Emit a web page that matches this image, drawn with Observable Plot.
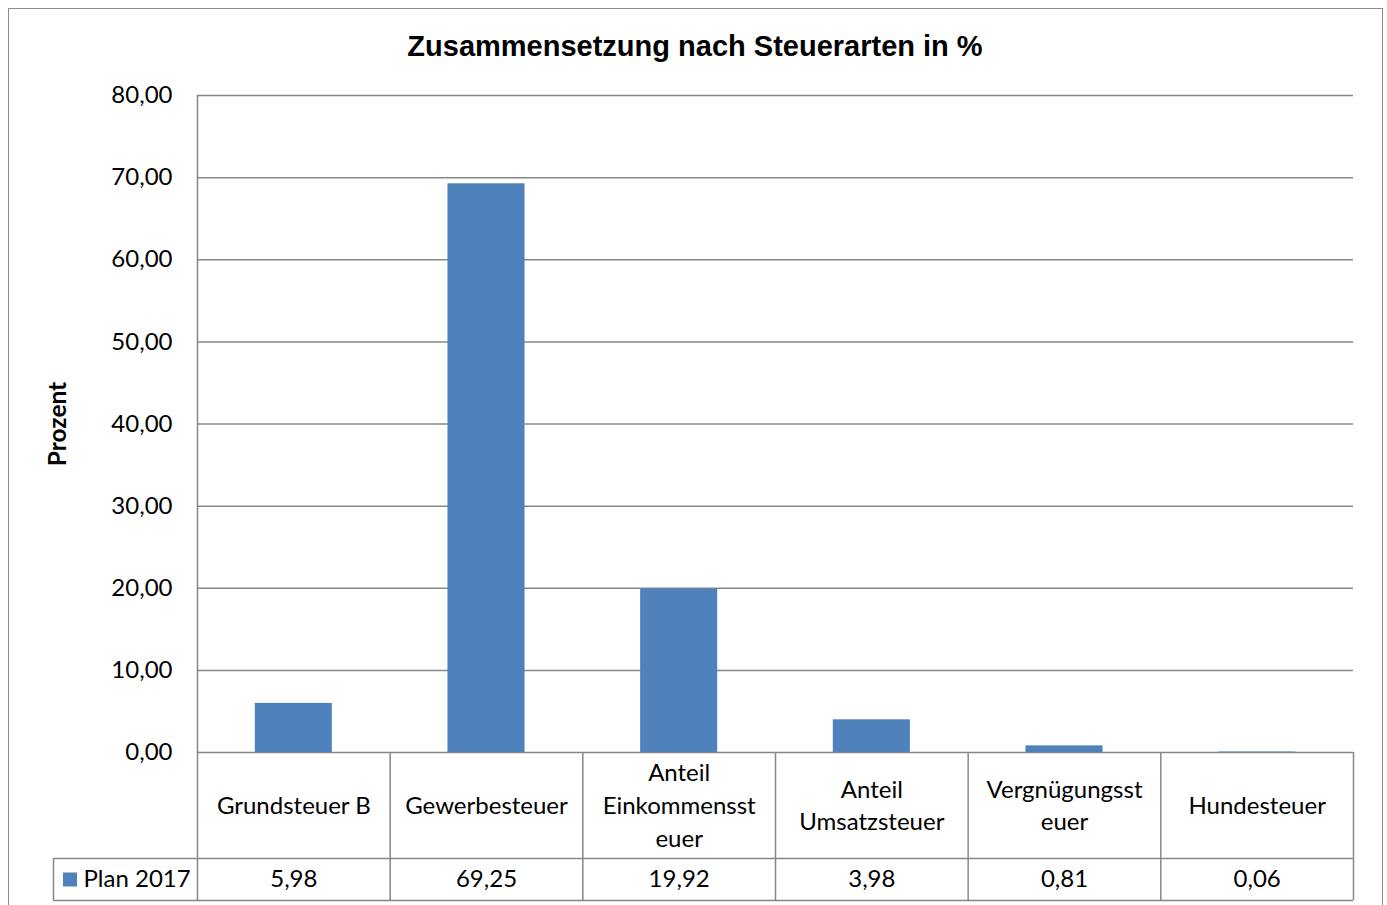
<!DOCTYPE html>
<html><head><meta charset="utf-8">
<script src="https://cdn.jsdelivr.net/npm/d3@7"></script>
<script src="https://cdn.jsdelivr.net/npm/@observablehq/plot@0.6"></script>
<style>
body{margin:0;background:#fff;overflow:hidden}
#wrap{position:relative;width:1387px;height:905px;overflow:hidden;background:#fff}
#box{position:absolute;left:7.5px;top:7.5px;width:1375px;height:960px;border:1.5px solid #8c8c8c;box-sizing:border-box}
#title{position:absolute;left:0;width:1390px;top:30px;text-align:center;font:bold 29px "Liberation Sans",Arial,sans-serif;color:#000}
#chart{position:absolute;left:0;top:0}
</style></head><body>
<div id="wrap"><div id="box"></div><div id="title">Zusammensetzung nach Steuerarten in %</div><div id="chart"></div></div>
<script>
const categories = ["Grundsteuer B","Gewerbesteuer","Anteil Einkommenssteuer","Anteil Umsatzsteuer","Vergnügungssteuer","Hundesteuer"];
const categoryLabels = ["Grundsteuer B","Gewerbesteuer","Anteil\nEinkommensst\neuer","Anteil\nUmsatzsteuer","Vergnügungsst\neuer","Hundesteuer"];
const values = [5.98, 69.25, 19.92, 3.98, 0.81, 0.06];
const yTicks = [0,10,20,30,40,50,60,70,80];
const seriesName = "Plan 2017";
const yLabel = "Prozent";

const W=1387,H=905, mL=197, mR=34, mT=95, mB=153;
const step=(W-mL-mR)/categories.length;
const frameH=H-mT-mB;
const rowLabelH=106, rowValH=42, legendW=144;
const tableH=rowLabelH+rowValH;
const gray="#878787";
const blue="#4f81bd";
const fmt = v => d3.format(".2f")(v).replace(".", ",");
const data = categories.map((c,i)=>({cat:c,label:categoryLabels[i],value:values[i]}));
const font = "Lato, 'Open Sans', sans-serif";
const fs = 24;

const chart = Plot.plot({
  width:W, height:H, marginLeft:mL, marginRight:mR, marginTop:mT, marginBottom:mB,
  style:{fontFamily:font, fontSize:fs+"px", color:"#000", background:"transparent", overflow:"visible"},
  x:{domain:categories, paddingInner:0.6, paddingOuter:0.3, round:false, axis:null},
  y:{domain:[0,80]},
  marks:[
    Plot.ruleY(yTicks,{stroke:gray,strokeWidth:1.5}),
    Plot.barY(data,{x:"cat",y:"value",fill:blue}),
    Plot.axisY(yTicks,{tickSize:0,tickPadding:25,tickFormat:fmt,label:null,fontSize:fs}),
    Plot.text([yLabel],{frameAnchor:"left",dx:-(mL-58),rotate:-90,textAnchor:"middle",fontWeight:"bold",fontSize:24.5}),
    // axis line + table verticals
    Plot.ruleX([categories[0]],{x:d=>d,dx:-step/2,stroke:gray,strokeWidth:1.5,insetBottom:-tableH}),
    Plot.ruleX(categories.slice(1),{x:d=>d,dx:-step/2,stroke:gray,strokeWidth:1.5,insetTop:frameH,insetBottom:-tableH}),
    Plot.ruleX([categories[categories.length-1]],{x:d=>d,dx:step/2,stroke:gray,strokeWidth:1.5,insetTop:frameH,insetBottom:-tableH}),
    Plot.ruleX([categories[0]],{x:d=>d,dx:-step/2-legendW,stroke:gray,strokeWidth:1.5,insetTop:frameH+rowLabelH,insetBottom:-tableH}),
    // table horizontals
    Plot.ruleY([0],{dy:rowLabelH,insetLeft:-legendW,stroke:gray,strokeWidth:1.5}),
    Plot.ruleY([0],{dy:tableH,insetLeft:-legendW,stroke:gray,strokeWidth:1.5}),
    // table text
    Plot.text(data,{x:"cat",text:"label",frameAnchor:"bottom",dy:rowLabelH/2-2,lineAnchor:"middle",lineHeight:1.36,fontSize:fs}),
    Plot.text(data,{x:"cat",text:d=>fmt(d.value),frameAnchor:"bottom",dy:rowLabelH+rowValH/2,lineAnchor:"middle",fontSize:fs}),
    Plot.dot([seriesName],{x:()=>categories[0],dx:-step/2-127.5,frameAnchor:"bottom",dy:rowLabelH+rowValH/2,symbol:"square",r:7.9,fill:blue,stroke:null}),
    Plot.text([seriesName],{x:()=>categories[0],dx:-step/2-114,frameAnchor:"bottom",dy:rowLabelH+rowValH/2,textAnchor:"start",lineAnchor:"middle",fontSize:fs})
  ]
});
document.getElementById("chart").appendChild(chart);
</script>
</body></html>
